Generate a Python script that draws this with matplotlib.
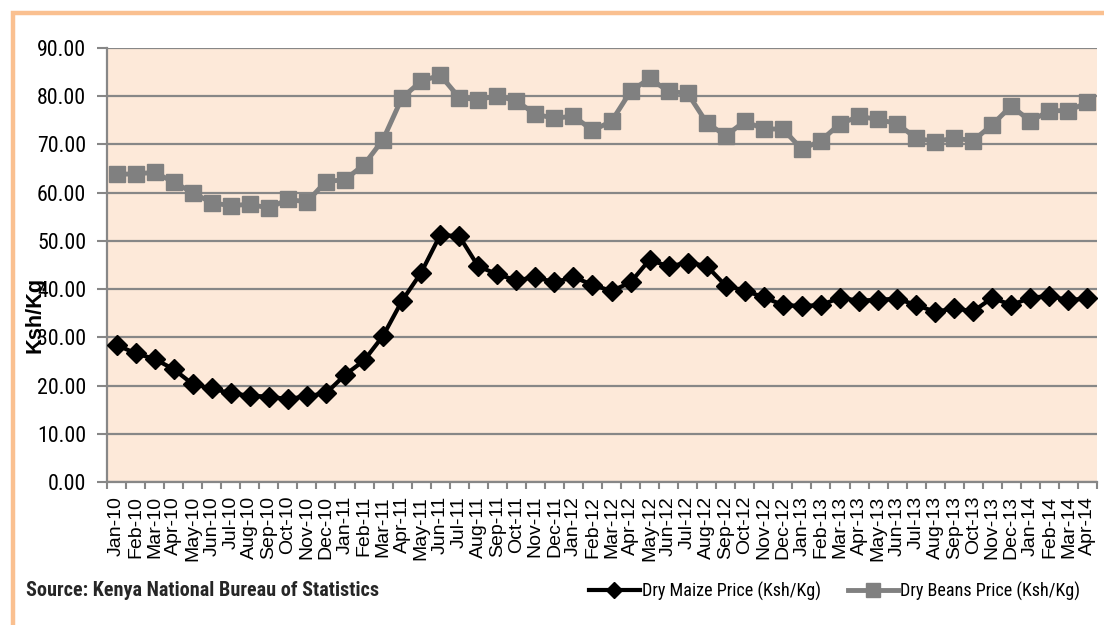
import numpy as np
import matplotlib.pyplot as plt
from matplotlib import font_manager
from matplotlib.patches import Rectangle
from matplotlib.lines import Line2D

months = ['Jan-10', 'Feb-10', 'Mar-10', 'Apr-10', 'May-10', 'Jun-10', 'Jul-10', 'Aug-10',
          'Sep-10', 'Oct-10', 'Nov-10', 'Dec-10', 'Jan-11', 'Feb-11', 'Mar-11', 'Apr-11',
          'May-11', 'Jun-11', 'Jul-11', 'Aug-11', 'Sep-11', 'Oct-11', 'Nov-11', 'Dec-11',
          'Jan-12', 'Feb-12', 'Mar-12', 'Apr-12', 'May-12', 'Jun-12', 'Jul-12', 'Aug-12',
          'Sep-12', 'Oct-12', 'Nov-12', 'Dec-12', 'Jan-13', 'Feb-13', 'Mar-13', 'Apr-13',
          'May-13', 'Jun-13', 'Jul-13', 'Aug-13', 'Sep-13', 'Oct-13', 'Nov-13', 'Dec-13',
          'Jan-14', 'Feb-14', 'Mar-14', 'Apr-14']

maize = [28.4, 26.7, 25.5, 23.4, 20.3, 19.4, 18.4, 17.9, 17.7, 17.2, 17.8, 18.4,
         22.2, 25.2, 30.3, 37.6, 43.4, 51.2, 51.0, 44.7, 43.1, 41.8, 42.5, 41.4,
         42.5, 40.9, 39.6, 41.4, 46.1, 44.7, 45.5, 44.8, 40.7, 39.7, 38.3, 36.7,
         36.5, 36.7, 38.2, 37.6, 37.8, 38.0, 36.7, 35.3, 36.0, 35.4, 38.2, 36.7,
         38.2, 38.6, 37.7, 38.1]

beans = [63.8, 63.9, 64.2, 62.2, 60.0, 57.9, 57.3, 57.6, 56.8, 58.6, 58.1, 62.3,
         62.7, 65.8, 71.0, 79.7, 83.1, 84.4, 79.7, 79.3, 80.1, 79.0, 76.3, 75.4,
         75.9, 72.9, 74.8, 81.0, 83.7, 81.0, 80.6, 74.5, 71.8, 74.8, 73.2, 73.2,
         69.0, 70.8, 74.3, 75.8, 75.2, 74.3, 71.3, 70.6, 71.3, 70.8, 74.1, 78.0,
         74.8, 77.0, 77.0, 78.7]

yticks = [0, 10, 20, 30, 40, 50, 60, 70, 80, 90]


# pick a condensed face if one is installed, else plain Liberation Sans
def narrow_font():
    names = sorted({f.name for f in font_manager.fontManager.ttflist})
    for want in ['Liberation Sans Narrow', 'Arial Narrow', 'Roboto Condensed',
                 'Noto Sans Condensed', 'Open Sans Condensed', 'DejaVu Sans Condensed']:
        if want in names:
            return {'family': [want, 'DejaVu Sans']}
    for f in font_manager.fontManager.ttflist:
        if f.stretch in ('condensed', 'semi-condensed') and f.name in names:
            return {'family': [f.name, 'DejaVu Sans'], 'stretch': f.stretch}
    return {'family': ['Liberation Sans', 'DejaVu Sans']}


narrow = narrow_font()
arial = {'family': ['Liberation Sans', 'DejaVu Sans']}

fig = plt.figure(figsize=(11.04, 6.25), dpi=100)

ax = fig.add_axes([107 / 1104, 1 - 482 / 625, 990 / 1104, 434 / 625])
ax.set_facecolor('#FDE9D9')

x = np.arange(len(months))
ax.plot(x, beans, color='#808080', lw=3.5, marker='s', ms=12, mec='#808080', zorder=3)
ax.plot(x, maize, color='black', lw=3, marker='D', ms=10, mec='black', zorder=4)

ax.set_xlim(-0.5, len(months) - 0.5)
ax.set_ylim(0, 90)
ax.yaxis.grid(True, color='#878787', lw=1.6)
ax.set_axisbelow(True)
ax.set_xticks(np.arange(-0.5, len(months), 1), minor=True)
ax.tick_params(axis='x', which='major', length=0, pad=10)
ax.tick_params(axis='x', which='minor', length=5, width=1.5, color='#878787')
ax.tick_params(axis='y', length=7, width=1.5, color='#878787', pad=8)

ax.set_yticks(yticks)
ylabels = ax.set_yticklabels([f'{v:.2f}' for v in yticks], fontsize=15, **narrow)
ax.set_xticks(x)
ax.set_xticklabels(months, rotation=90, fontsize=14, **arial)

for s in ['top', 'right']:
    ax.spines[s].set_visible(False)
for s in ['left', 'bottom']:
    ax.spines[s].set_color('#878787')
    ax.spines[s].set_linewidth(1.6)

ylab = fig.text(35 / 1104, 1 - 315 / 625, 'Ksh/Kg', rotation=90, ha='center',
                va='center', fontsize=15, fontweight='bold', **arial)

src = fig.text(26 / 1104, 1 - 591 / 625, 'Source: Kenya National Bureau of Statistics',
               ha='left', va='center', fontweight='bold', color='#262626', fontsize=14,
               **narrow)

handles = [Line2D([], [], color='black', lw=3, marker='D', ms=8),
           Line2D([], [], color='#808080', lw=3.5, marker='s', ms=10)]
leg = fig.legend(handles, ['Dry Maize Price (Ksh/Kg)', 'Dry Beans Price (Ksh/Kg)'],
                 loc='center right', bbox_to_anchor=(1088 / 1104, 1 - 591 / 625), ncol=2,
                 frameon=False, prop=dict(size=14, **narrow), handlelength=2.6,
                 handletextpad=0.1, columnspacing=1.4, borderaxespad=0)

# scale text sizes so the drawn widths match the reference in pixels
fig.canvas.draw()
r = fig.canvas.get_renderer()


def rescale(texts, ref, target):
    w = ref.get_window_extent(r)
    size = ref.get_fontsize() * target / (w.width if ref.get_rotation() == 0 else w.height)
    for t in texts:
        t.set_fontsize(size)


rescale(ylabels, ylabels[-1], 49)
rescale([ylab], ylab, 76)
rescale([src], src, 354)
rescale(leg.get_texts(), leg.get_texts()[0], 180)

fig.patches.append(Rectangle((12.5 / 1104, -0.1), 1.2, 1.1 - 12.5 / 625, fill=False,
                             edgecolor='#FAC090', lw=3.2, transform=fig.transFigure))

fig.savefig('out.png', dpi=100)
